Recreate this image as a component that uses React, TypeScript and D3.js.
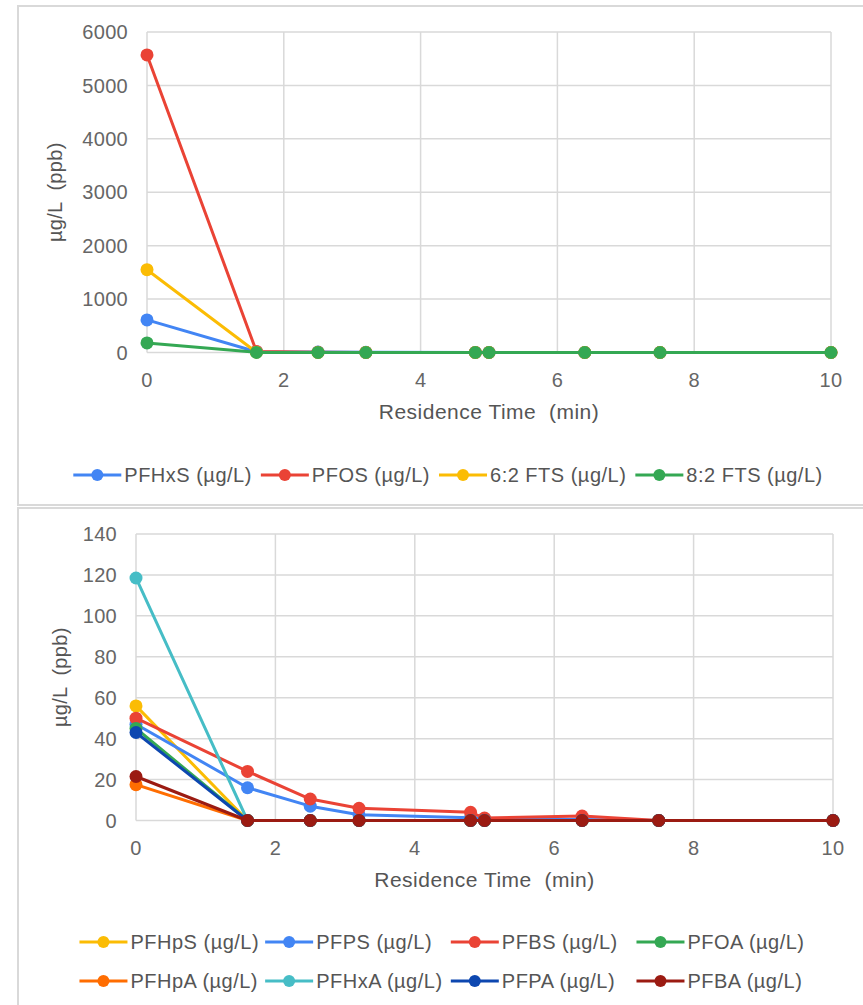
import React, { useRef, useEffect } from 'react';
import * as d3 from 'd3';

// residence times (min), shared by both charts
const times = [0, 1.6, 2.5, 3.2, 4.8, 5.0, 6.4, 7.5, 10];

// top chart
const topNames = ['PFHxS (µg/L)', 'PFOS (µg/L)', '6:2 FTS (µg/L)', '8:2 FTS (µg/L)'];
const topColors = ['#4285F4', '#EA4335', '#FBBC04', '#34A853'];
const pfhxs = [610, 15, 8, 3, 1, 1, 0.5, 0, 0];
const pfos = [5570, 20, 5, 2, 1, 1, 0.5, 0, 0];
const fts62 = [1550, 5, 2, 1, 0.5, 0.5, 0, 0, 0];
const fts82 = [180, 2, 1, 0.5, 0, 0, 0, 0, 0];
const topTicksY = [0, 1000, 2000, 3000, 4000, 5000, 6000];

// bottom chart
const botNames = ['PFHpS (µg/L)', 'PFPS (µg/L)', 'PFBS (µg/L)', 'PFOA (µg/L)',
  'PFHpA (µg/L)', 'PFHxA (µg/L)', 'PFPA (µg/L)', 'PFBA (µg/L)'];
const botColors = ['#FBBC04', '#4285F4', '#EA4335', '#34A853',
  '#FF6D01', '#46BDC6', '#0D47B0', '#9B1B12'];
const pfhps = [56, 0, 0, 0, 0, 0, 0, 0, 0];
const pfps = [47, 16, 7, 2.8, 1.4, 0.8, 0.5, 0, 0];
const pfbs = [50, 24, 10.5, 6, 4, 1.2, 2.2, 0, 0];
const pfoa = [45, 0, 0, 0, 0, 0, 0, 0, 0];
const pfhpa = [17.5, 0, 0, 0, 0, 0, 0, 0, 0];
const pfhxa = [118.5, 0, 0, 0, 0, 0, 0, 0, 0];
const pfpa = [43, 0, 0, 0, 0, 0, 0, 0, 0];
const pfba = [21.5, 0, 0, 0, 0, 0, 0, 0, 0];
const botTicksY = [0, 20, 40, 60, 80, 100, 120, 140];

const ticksX = [0, 2, 4, 6, 8, 10];

const FONT = '"Liberation Sans", Arial, sans-serif';
const GRID = '#d9d9d9';

function drawPanel(svg, p) {
  const g = svg.append('g');
  // frame
  g.append('rect')
    .attr('x', p.frame[0]).attr('y', p.frame[1])
    .attr('width', p.frame[2]).attr('height', p.frame[3])
    .attr('fill', 'white').attr('stroke', GRID).attr('stroke-width', 2);

  const x = d3.scaleLinear().domain([0, 10]).range([p.left, p.right]);
  const y = d3.scaleLinear().domain([0, p.yMax]).range([p.bottom, p.top]);

  // grid
  g.selectAll('.gy').data(p.ticksY).enter().append('line')
    .attr('x1', p.left).attr('x2', p.right)
    .attr('y1', d => y(d)).attr('y2', d => y(d))
    .attr('stroke', GRID).attr('stroke-width', 1.5);
  g.selectAll('.gx').data(ticksX).enter().append('line')
    .attr('x1', d => x(d)).attr('x2', d => x(d))
    .attr('y1', p.top).attr('y2', p.bottom)
    .attr('stroke', GRID).attr('stroke-width', 1.5);

  // tick labels
  g.selectAll('.ty').data(p.ticksY).enter().append('text')
    .attr('x', p.left - 19).attr('y', d => y(d)).attr('dy', '0.36em')
    .attr('text-anchor', 'end').attr('font-family', FONT).attr('font-size', 20)
    .attr('letter-spacing', 0.3).attr('fill', '#666').text(d => d);
  g.selectAll('.tx').data(ticksX).enter().append('text')
    .attr('x', d => x(d)).attr('y', p.bottom + 27).attr('dy', '0.36em')
    .attr('text-anchor', 'middle').attr('font-family', FONT).attr('font-size', 20)
    .attr('letter-spacing', 0.3).attr('fill', '#666').text(d => d);

  // axis titles
  g.append('text')
    .attr('x', (p.left + p.right) / 2).attr('y', p.bottom + 59).attr('dy', '0.36em')
    .attr('text-anchor', 'middle').attr('font-family', FONT).attr('font-size', 21)
    .attr('letter-spacing', 0.5)
    .attr('fill', '#555').style('white-space', 'pre').text('Residence Time  (min)');
  g.append('text')
    .attr('transform', `translate(${p.yTitleX},${(p.top + p.bottom) / 2}) rotate(-90)`)
    .attr('dy', '0.36em')
    .attr('text-anchor', 'middle').attr('font-family', FONT).attr('font-size', 20)
    .attr('letter-spacing', 0.3)
    .attr('fill', '#555').style('white-space', 'pre').text('µg/L  (ppb)');

  // series
  const line = d3.line().x((d, i) => x(times[i])).y(d => y(d));
  p.series.forEach((vals, k) => {
    const s = g.append('g');
    s.append('path').datum(vals).attr('d', line)
      .attr('fill', 'none').attr('stroke', p.colors[k]).attr('stroke-width', 3)
      .attr('stroke-linejoin', 'round');
    s.selectAll('circle').data(vals).enter().append('circle')
      .attr('cx', (d, i) => x(times[i])).attr('cy', d => y(d)).attr('r', 6.5)
      .attr('fill', p.colors[k]);
  });

  // legend
  const lg = g.append('g');
  const items = p.names.map((name, k) => {
    const it = lg.append('g');
    it.append('line').attr('x1', 0).attr('x2', 48).attr('y1', 0).attr('y2', 0)
      .attr('stroke', p.colors[k]).attr('stroke-width', 3);
    it.append('circle').attr('cx', 24).attr('cy', 0).attr('r', 6).attr('fill', p.colors[k]);
    const t = it.append('text').attr('x', 51).attr('dy', '0.36em')
      .attr('font-family', FONT).attr('font-size', 20).attr('letter-spacing', 0.5)
      .attr('fill', '#555').text(name);
    const w = 51 + t.node().getComputedTextLength();
    return { it, w };
  });
  if (p.legendCols) {
    const colW = d3.max(items, d => d.w) + 6;
    const total = colW * (p.legendCols - 1) + d3.max(items.filter((d, i) => i % p.legendCols === p.legendCols - 1), d => d.w);
    const x0 = p.legendCenter - total / 2;
    items.forEach((d, i) => {
      const c = i % p.legendCols, r = Math.floor(i / p.legendCols);
      d.it.attr('transform', `translate(${x0 + c * colW},${p.legendY + r * 39})`);
    });
  } else {
    const gap = 9;
    const total = d3.sum(items, d => d.w) + gap * (items.length - 1);
    let cx = p.legendCenter - total / 2;
    items.forEach(d => {
      d.it.attr('transform', `translate(${cx},${p.legendY})`);
      cx += d.w + gap;
    });
  }
}

export default function App() {
  const ref = useRef(null);

  useEffect(() => {
    document.body.style.margin = '0';
    const svg = d3.select(ref.current);
    svg.selectAll('*').remove();

    drawPanel(svg, {
      frame: [18, 6, 860, 499],
      left: 147, right: 831, top: 32, bottom: 352.5,
      yMax: 6000, ticksY: topTicksY, yTitleX: 55,
      series: [pfhxs, pfos, fts62, fts82], colors: topColors, names: topNames,
      legendY: 475, legendCenter: 448,
    });
    drawPanel(svg, {
      frame: [18, 508, 860, 510],
      left: 136, right: 833, top: 534, bottom: 820.5,
      yMax: 140, ticksY: botTicksY, yTitleX: 60,
      series: [pfhps, pfps, pfbs, pfoa, pfhpa, pfhxa, pfpa, pfba], colors: botColors, names: botNames,
      legendY: 942, legendCenter: 442, legendCols: 4,
    });
  }, []);

  return <svg ref={ref} width={863} height={1005} style={{ display: 'block', background: 'white' }} />;
}
